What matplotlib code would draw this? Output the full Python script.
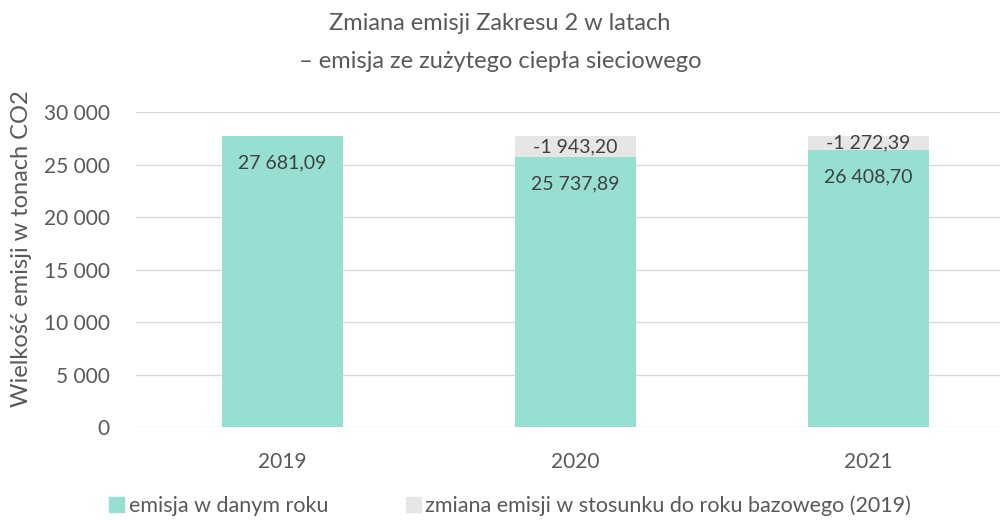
import matplotlib
matplotlib.use("Agg")
import matplotlib.pyplot as plt
import matplotlib.patches as patches

plt.rcParams['font.family'] = ['Lato', 'DejaVu Sans']

lata = ["2019", "2020", "2021"]
emisja = [27681.09, 25737.89, 26408.70]
zmiana = [0.0, -1943.20, -1272.39]

kolorEmisja = "#96DFD2"
kolorZmiana = "#E7E6E6"
szary = "#595959"


def formatLiczby(v, dec=2):
    s = f"{abs(v):,.{dec}f}".replace(",", " ").replace(".", ",")
    return ("-" if v < 0 else "") + s


fig = plt.figure(figsize=(10, 5.2), dpi=100)
ax = fig.add_axes([0.136, 0.1788, 0.864, 0.6058])

x = range(len(lata))
szer = 0.41
ax.bar(x, emisja, szer, color=kolorEmisja, zorder=3)
ax.bar(x, [abs(z) for z in zmiana], szer, bottom=emisja, color=kolorZmiana, zorder=3)

for i in x:
    ax.annotate(formatLiczby(emisja[i]), (i, emisja[i]), xytext=(0, -27),
                textcoords="offset pixels", ha="center", va="center",
                fontsize=14, color="#404040", zorder=4)
    if zmiana[i] != 0:
        ax.text(i, emisja[i] + abs(zmiana[i]) / 2, formatLiczby(zmiana[i]),
                ha="center", va="center", fontsize=14, color="#404040", zorder=4)

ax.set_xlim(-0.5, 2.449)
ax.set_ylim(0, 30000)
ax.set_yticks(range(0, 30001, 5000))
ax.set_yticklabels([formatLiczby(t, 0) for t in range(0, 30001, 5000)])
ax.set_xticks(list(x))
ax.set_xticklabels(lata)
ax.tick_params(length=0, labelsize=15, colors=szary)
ax.tick_params(axis="x", pad=18)
ax.tick_params(axis="y", pad=19)
ax.grid(axis="y", color="#D9D9D9", linewidth=1, zorder=0)
for s in ax.spines.values():
    s.set_visible(False)

ax.set_ylabel("Wielkość emisji w tonach CO2", fontsize=17, color=szary)
ax.yaxis.set_label_coords(-0.12, 0.565)
fig.text(0.5, 0.955, "Zmiana emisji Zakresu 2 w latach", ha="center", va="center",
         fontsize=17, color=szary)
fig.text(0.5, 0.882, "– emisja ze zużytego ciepła sieciowego", ha="center", va="center",
         fontsize=17, color=szary)

uchwyty = [patches.Patch(color=kolorEmisja), patches.Patch(color=kolorZmiana)]
fig.legend(uchwyty, ["emisja w danym roku", "zmiana emisji w stosunku do roku bazowego (2019)"],
           loc="center", bbox_to_anchor=(0.51, 0.027), ncol=2, frameon=False,
           fontsize=15.5, labelcolor=szary, handlelength=0.7, handleheight=0.7,
           handletextpad=0.2, columnspacing=3.6)

plt.savefig("out.png", dpi=100)
